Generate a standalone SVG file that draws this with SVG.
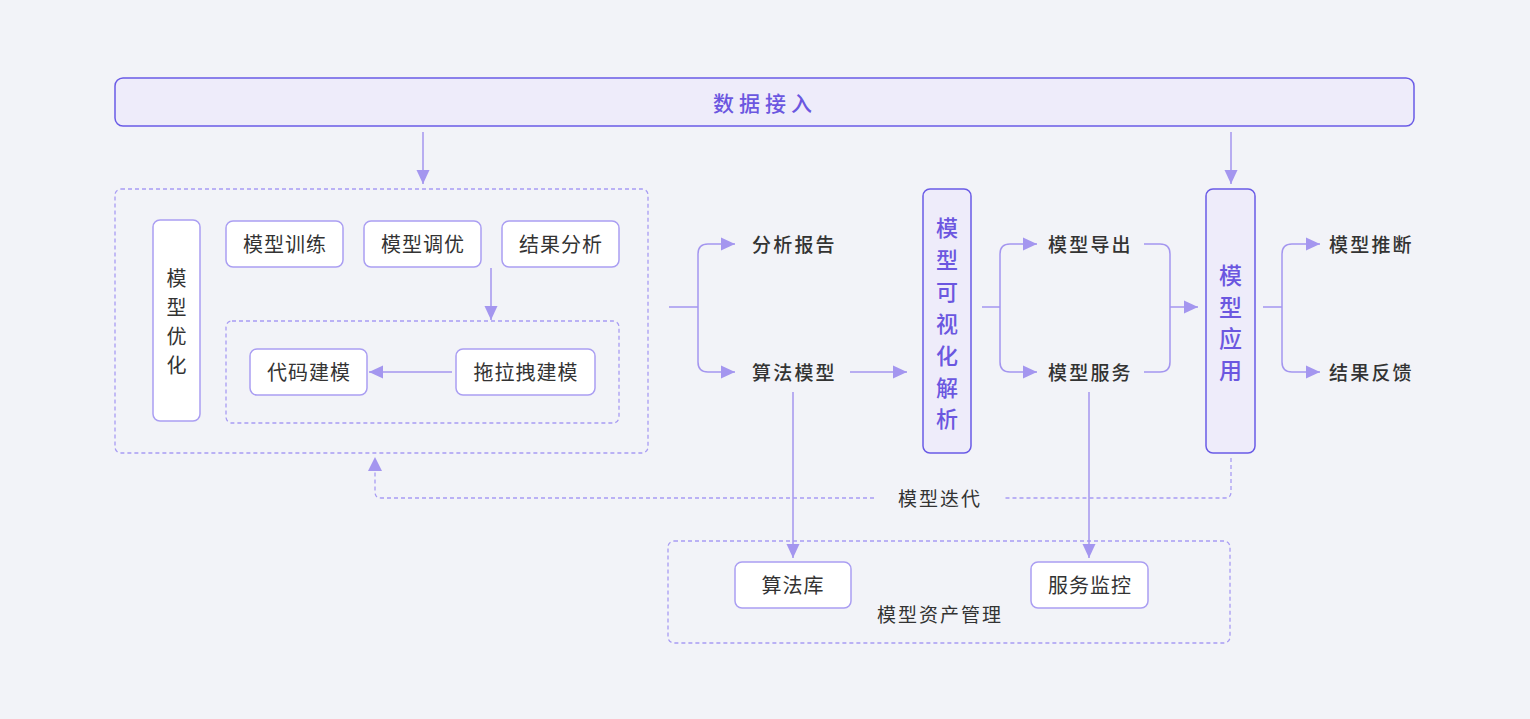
<svg xmlns="http://www.w3.org/2000/svg" width="1530" height="719" viewBox="0 0 1530 719">
<defs>
<style>
.t{font-family:"Noto Sans CJK SC","Noto Sans",sans-serif;fill:#333;dominant-baseline:central}
.lbl{font-size:20px;letter-spacing:1px;text-anchor:middle}
.sub{font-size:19px;letter-spacing:2px;text-anchor:middle}
.bold{font-size:19px;font-weight:500;letter-spacing:2.2px}
.vt{font-size:20px;text-anchor:middle}
.pv{font-family:"Noto Sans CJK SC","Noto Sans",sans-serif;fill:#6b57e0;font-weight:500;font-size:22px;text-anchor:middle;dominant-baseline:central}
.box{fill:#fff;stroke:#aa9ef2;stroke-width:1.5}
.pbox{fill:#eeecfa;stroke:#6a5be6;stroke-width:1.5}
.dash{fill:none;stroke:#a89cf3;stroke-width:1.3;stroke-dasharray:4 3}
.c{fill:none;stroke:#a496ef;stroke-width:1.5}
</style>
<marker id="ah" viewBox="0 0 14 14" refX="14" refY="7" markerWidth="14" markerHeight="14" markerUnits="userSpaceOnUse" orient="auto">
<path d="M0,0.5 L14,7 L0,13.5 Z" fill="#a496ef"/>
</marker>
</defs>
<rect width="1530" height="719" fill="#f2f3f8"/>

<g id="group-optimize">
<rect class="dash" x="115" y="189" width="533" height="264" rx="6"/>
<rect class="dash" x="226" y="321" width="393" height="102" rx="6"/>
</g>
<g id="group-assets">
<rect class="dash" x="668" y="541" width="562" height="102" rx="6"/>
<text class="t sub" x="940" y="613">模型资产管理</text>
</g>

<g id="connectors">
<path class="c" d="M423,132 V184" marker-end="url(#ah)"/>
<path class="c" d="M1231,132 V184" marker-end="url(#ah)"/>
<path class="c" d="M491,268 V320" marker-end="url(#ah)"/>
<path class="c" d="M452,372 H369" marker-end="url(#ah)"/>
<path class="c" d="M669,307 H698 M698,307 V254 Q698,244 708,244 H735" marker-end="url(#ah)"/>
<path class="c" d="M698,307 V362 Q698,372 708,372 H735" marker-end="url(#ah)"/>
<path class="c" d="M850,372 H907" marker-end="url(#ah)"/>
<path class="c" d="M982,307 H1000 M1000,307 V254 Q1000,244 1010,244 H1037" marker-end="url(#ah)"/>
<path class="c" d="M1000,307 V362 Q1000,372 1010,372 H1037" marker-end="url(#ah)"/>
<path class="c" d="M1144,244 H1160 Q1170,244 1170,254 V362 Q1170,372 1160,372 H1144"/>
<path class="c" d="M1170,307 H1198" marker-end="url(#ah)"/>
<path class="c" d="M1263,307 H1282 M1282,307 V254 Q1282,244 1292,244 H1320" marker-end="url(#ah)"/>
<path class="c" d="M1282,307 V362 Q1282,372 1292,372 H1320" marker-end="url(#ah)"/>
<path class="c" d="M793,392 V558" marker-end="url(#ah)"/>
<path class="c" d="M1089,392 V558" marker-end="url(#ah)"/>
<path class="dash" d="M1231,458 V492 Q1231,498 1225,498 H1003"/>
<path class="dash" d="M874,498 H381 Q375,498 375,492 V470"/>
<path d="M368,471 L375,457 L382,471 Z" fill="#a496ef"/>
<text class="t sub" x="940" y="497">模型迭代</text>
</g>

<g id="node-data">
<rect class="pbox" x="115" y="78" width="1299" height="48" rx="8"/>
<text class="pv" x="765" y="102" style="font-size:21px;letter-spacing:5px">数据接入</text>
</g>

<g id="node-opt">
<rect class="box" x="153" y="220" width="47" height="201" rx="7"/>
<text class="t vt" x="176.5" y="277">模</text>
<text class="t vt" x="176.5" y="306">型</text>
<text class="t vt" x="176.5" y="335">优</text>
<text class="t vt" x="176.5" y="364">化</text>
</g>
<g id="node-train">
<rect class="box" x="226" y="221" width="117" height="46" rx="7"/>
<text class="t lbl" x="285" y="243">模型训练</text>
</g>
<g id="node-tune">
<rect class="box" x="364" y="221" width="117" height="46" rx="7"/>
<text class="t lbl" x="423" y="243">模型调优</text>
</g>
<g id="node-result">
<rect class="box" x="502" y="221" width="117" height="46" rx="7"/>
<text class="t lbl" x="561" y="243">结果分析</text>
</g>
<g id="node-code">
<rect class="box" x="250" y="349" width="117" height="46" rx="7"/>
<text class="t lbl" x="309" y="371">代码建模</text>
</g>
<g id="node-drag">
<rect class="box" x="456" y="349" width="139" height="46" rx="7"/>
<text class="t lbl" x="526" y="371">拖拉拽建模</text>
</g>

<g id="node-report"><text class="t bold" x="752" y="243">分析报告</text></g>
<g id="node-algo"><text class="t bold" x="752" y="371">算法模型</text></g>

<g id="node-visual">
<rect class="pbox" x="923" y="189" width="48" height="264" rx="7"/>
<text class="pv" x="947" y="226">模</text>
<text class="pv" x="947" y="258">型</text>
<text class="pv" x="947" y="290">可</text>
<text class="pv" x="947" y="322">视</text>
<text class="pv" x="947" y="354">化</text>
<text class="pv" x="947" y="386">解</text>
<text class="pv" x="947" y="417">析</text>
</g>

<g id="node-export"><text class="t bold" x="1048" y="243">模型导出</text></g>
<g id="node-service"><text class="t bold" x="1048" y="371">模型服务</text></g>

<g id="node-app">
<rect class="pbox" x="1206" y="189" width="49" height="264" rx="7"/>
<text class="pv" x="1230.5" y="274" style="font-size:23px">模</text>
<text class="pv" x="1230.5" y="306" style="font-size:23px">型</text>
<text class="pv" x="1230.5" y="337" style="font-size:23px">应</text>
<text class="pv" x="1230.5" y="369" style="font-size:23px">用</text>
</g>

<g id="node-infer"><text class="t bold" x="1329" y="243">模型推断</text></g>
<g id="node-feedback"><text class="t bold" x="1329" y="371">结果反馈</text></g>

<g id="node-lib">
<rect class="box" x="735" y="562" width="116" height="46" rx="7"/>
<text class="t lbl" x="793" y="584">算法库</text>
</g>
<g id="node-monitor">
<rect class="box" x="1031" y="562" width="117" height="46" rx="7"/>
<text class="t lbl" x="1090" y="584">服务监控</text>
</g>
</svg>
